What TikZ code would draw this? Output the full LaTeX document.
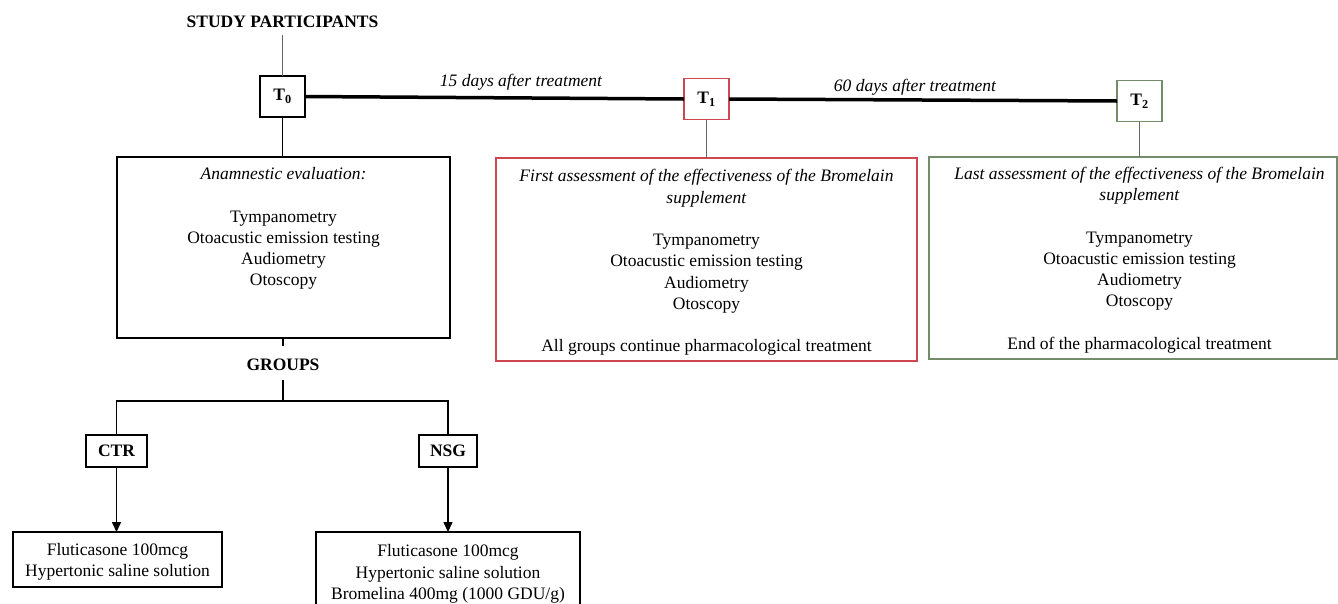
\documentclass[tikz,border=0pt]{standalone}
\usepackage{fontspec}
\setmainfont{Liberation Serif}
\usetikzlibrary{arrows.meta}
\definecolor{tred}{RGB}{205,70,80}
\definecolor{tgreen}{RGB}{115,140,105}
\newcommand\fs{\fontsize{17.5}{21.25}\selectfont}
\begin{document}
\begin{tikzpicture}[x=1pt,y=-1pt,
  every node/.style={inner sep=0pt, outer sep=0pt},
  rtxt/.style={font=\fs},
  itxt/.style={font=\fs\itshape},
  btxt/.style={font=\fs\bfseries},
  tbox/.style={draw, line width=1.4pt, minimum width=45pt, minimum height=41pt, font=\fs\bfseries},
  gbox/.style={draw, line width=1.4pt, minimum height=32pt, font=\fs\bfseries},
  bigbox/.style={draw, line width=1.4pt},
  thinline/.style={line width=1pt, draw=black!60},
  conn/.style={line width=1.7pt},
  timeline/.style={line width=3.5pt},
  arr/.style={line width=1.5pt, -{Triangle[length=10pt,width=9pt]}}
]
\useasboundingbox (0,0) rectangle (1338,603);

% top row
\node[btxt] (study) at (282.5,22) {STUDY PARTICIPANTS};
\node[tbox] (t0) at (282.5,96.5) {T\textsubscript{0}};
\node[tbox, draw=tred] (t1) at (706.5,99) {T\textsubscript{1}};
\node[tbox, draw=tgreen] (t2) at (1139.5,101) {T\textsubscript{2}};
\node[itxt] (l15) at (521,82) {15 days after treatment};
\node[itxt] (l60) at (915,87) {60 days after treatment};

\draw[thinline, shorten <=7pt] (study.south) -- (t0.north);
\draw[timeline] (t0.east) -- (t1.west);
\draw[timeline] (t1.east) -- (t2.west);

% boxes
\node[bigbox, minimum width=333pt, minimum height=181pt] (anam) at (283.5,247.5) {};
\node[rtxt, align=center] (anamtxt) at (283.5,228.5) {\textit{Anamnestic evaluation:}\\[21.25pt]Tympanometry\\Otoacustic emission testing\\Audiometry\\Otoscopy};

\node[bigbox, draw=tred, minimum width=421pt, minimum height=203pt] (red) at (706.5,259.5) {};
\node[rtxt, align=center] (redtxt) at (706.5,262.5)
  {\textit{First assessment of the effectiveness of the Bromelain}\\\textit{supplement}\\[21.25pt]Tympanometry\\Otoacustic emission testing\\Audiometry\\Otoscopy\\[21.25pt]All groups continue pharmacological treatment};

\node[bigbox, draw=tgreen, minimum width=408pt, minimum height=202pt] (green) at (1133,258) {};
\node[rtxt, align=center] (greentxt) at (1139.5,260)
  {\textit{Last assessment of the effectiveness of the Bromelain}\\\textit{supplement}\\[21.25pt]Tympanometry\\Otoacustic emission testing\\Audiometry\\Otoscopy\\[21.25pt]End of the pharmacological treatment};

\draw[conn] (t0.south) -- (t0.south |- anam.north);
\draw[thinline] (t1.south) -- (t1.south |- red.north);
\draw[thinline] (t2.south) -- (t2.south |- green.north);

% groups
\node[btxt] (groups) at (283,365) {GROUPS};
\coordinate (br) at (283,401);
\draw[conn, shorten >=13pt] (groups.north |- anam.south) -- (groups.north);
\draw[conn, shorten <=9pt] (groups.south) -- (br);

\node[gbox, minimum width=61pt] (ctr) at (116.5,451) {CTR};
\node[gbox, minimum width=58pt] (nsg) at (448,451) {NSG};
\draw[conn] (ctr.north) |- (br) -| (nsg.north);

\node[bigbox, minimum width=209pt, minimum height=55pt] (ctrres) at (117.5,559.5) {};
\node[rtxt, align=center] (ctrtxt) at (117.5,562)
  {Fluticasone 100mcg\\Hypertonic saline solution};
\node[bigbox, minimum width=264pt, minimum height=84pt, rtxt, align=center] (nsgres) at (448,574)
  {Fluticasone 100mcg\\Hypertonic saline solution\\Bromelina 400mg (1000 GDU/g)};

\draw[arr] (ctr.south) -- (ctr.south |- ctrres.north);
\draw[arr] (nsg.south) -- (nsgres.north);
\end{tikzpicture}
\end{document}
